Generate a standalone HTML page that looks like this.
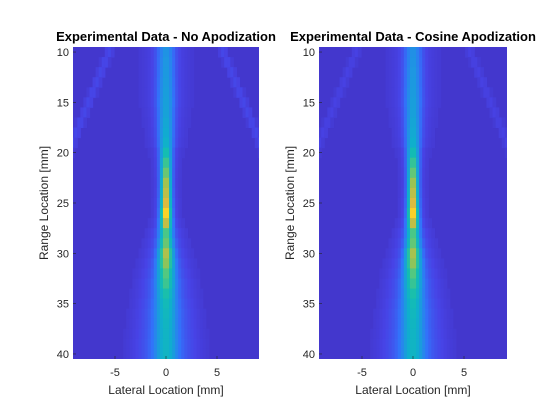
<!DOCTYPE html>
<html><head><meta charset="utf-8">
<style>
html,body{margin:0;padding:0;background:#fff;}
svg{display:block;font-family:"Liberation Sans",Arial,sans-serif;}
</style></head>
<body>
<svg id="fig" width="560" height="420" viewBox="0 0 560 420">
  <rect width="560" height="420" fill="#fff"/>
</svg>
<script>
// Data arrays
const rangeRows = [10,11,12,13,14,15,16,17,18,19,20,21,22,23,24,25,26,27,28,29,30,31,32,33,34,35,36,37,38,39,40];
const peakLeft  = [0.30,0.31,0.32,0.33,0.34,0.35,0.36,0.38,0.40,0.43,0.52,0.60,0.68,0.76,0.80,0.85,0.98,0.80,0.62,0.66,0.75,0.70,0.62,0.58,0.52,0.48,0.46,0.45,0.44,0.44,0.44];
const peakRight = [0.29,0.30,0.31,0.32,0.33,0.34,0.35,0.37,0.39,0.42,0.51,0.59,0.67,0.75,0.80,0.85,0.97,0.80,0.62,0.65,0.74,0.70,0.62,0.57,0.52,0.48,0.46,0.45,0.44,0.44,0.44];
const beamWidth = [0.55,0.55,0.55,0.55,0.55,0.55,0.52,0.50,0.48,0.45,0.40,0.38,0.36,0.35,0.35,0.35,0.35,0.38,0.42,0.45,0.48,0.52,0.55,0.58,0.60,0.62,0.65,0.66,0.68,0.70,0.70];
const wingAmp   = [0.05,0.05,0.05,0.05,0.05,0.05,0.05,0.05,0.05,0.05,0.04,0.04,0.04,0.04,0.04,0.05,0.05,0.06,0.08,0.09,0.10,0.11,0.12,0.13,0.13,0.14,0.14,0.14,0.14,0.14,0.14];
const lobePos   = [5.6,6.0,6.4,6.8,7.2,7.6,8.0,8.4,8.8,9.2,9.6,10,10,10,10,10,10,10,10,10,10,10,10,10,10,10,10,10,10,10,10];
const lobeLeft  = 0.05;
const lobeRight = 0.035;
const background = 0.06;
const xTicks = [-5,0,5];
const yTicks = [10,15,20,25,30,35,40];

const stops=[[62,38,168],[71,67,230],[50,115,250],[30,150,225],[15,175,205],[20,190,175],[80,200,130],[160,195,80],[230,185,60],[250,210,40],[249,251,14]];
function parula(v){v=Math.max(0,Math.min(1,v));const p=v*10,i=Math.min(9,Math.floor(p)),f=p-i;const a=stops[i],b=stops[i+1];
return 'rgb('+a.map((c,k)=>Math.round(c+(b[k]-c)*f)).join(',')+')';}

const NS='http://www.w3.org/2000/svg', svg=document.getElementById('fig');
function mk(t,at,parent){const e=document.createElementNS(NS,t);for(const k in at)e.setAttribute(k,at[k]);(parent||svg).appendChild(e);return e;}

function panel(x0,x1,cx,peaks,lobe,title,pname){
  const top=47,bot=359,rowH=(bot-top)/rangeRows.length,pxmm=10.2;
  const g=mk('g',{});
  
  
  const clip=mk('clipPath',{id:'c'+pname},g);mk('rect',{x:x0,y:top,width:x1-x0,height:bot-top},clip);
  const hg=mk('g',{'clip-path':'url(#c'+pname+')'},g);
  
  
  mk('rect',{x:x0,y:top,width:x1-x0,height:bot-top,fill:parula(background)},hg);
  const colW=0.3;
  rangeRows.forEach((r,ri)=>{
    const y=top+ri*rowH;
    for(let lx=-9.3;lx<=9.3;lx+=colW){
      const xc=lx+colW/2;
      const w=beamWidth[ri];
      let v=background+(peaks[ri]-background-wingAmp[ri])*Math.exp(-xc*xc/(2*w*w));
      v+=wingAmp[ri]*Math.exp(-xc*xc/(2*(2.6*w)*(2.6*w)));
      const d=Math.abs(Math.abs(xc)-lobePos[ri]);
      v+=lobe*Math.exp(-d*d/(2*0.3*0.3));
      if(v<background+0.01)continue;
      const c=mk('rect',{x:(cx+lx*pxmm).toFixed(2),y:y.toFixed(2),width:(colW*pxmm+0.6).toFixed(2),height:(rowH+0.5).toFixed(2),fill:parula(v)},hg);
      
      
    }
  });
  xTicks.forEach(t=>{const x=cx+t*pxmm;
    mk('line',{x1:x,x2:x,y1:bot,y2:bot-3,stroke:'#262626','stroke-width':0.6},g);
    const tx=mk('text',{x:x,y:bot+17,'text-anchor':'middle','font-size':11,fill:'#262626'},g);tx.textContent=t;
    
    });
  yTicks.forEach(t=>{const y=top+(t-rangeRows[0]+0.5)*rowH;
    mk('line',{x1:x0,x2:x0+3,y1:y,y2:y,stroke:'#262626','stroke-width':0.6},g);
    const tx=mk('text',{x:x0-4,y:y+4,'text-anchor':'end','font-size':11,fill:'#262626'},g);tx.textContent=t;
    
    });
  const ti=mk('text',{x:(x0+x1)/2,y:41,'text-anchor':'middle','font-size':13,'font-weight':'bold',fill:'#000'},g);ti.textContent=title;
  
  
  const xl=mk('text',{x:cx,y:394,'text-anchor':'middle','font-size':12,fill:'#262626'},g);xl.textContent='Lateral Location [mm]';
  
  
  const yx=x0-25,yy=(top+bot)/2;
  const yl=mk('text',{x:yx,y:yy,'text-anchor':'middle','font-size':12,fill:'#262626',transform:'rotate(-90 '+yx+' '+yy+')'},g);yl.textContent='Range Location [mm]';
  
  
}
panel(73,259,166,peakLeft,lobeLeft,'Experimental Data - No Apodization','left-panel');
panel(319,507,413,peakRight,lobeRight,'Experimental Data - Cosine Apodization','right-panel');
</script>
</body></html>
